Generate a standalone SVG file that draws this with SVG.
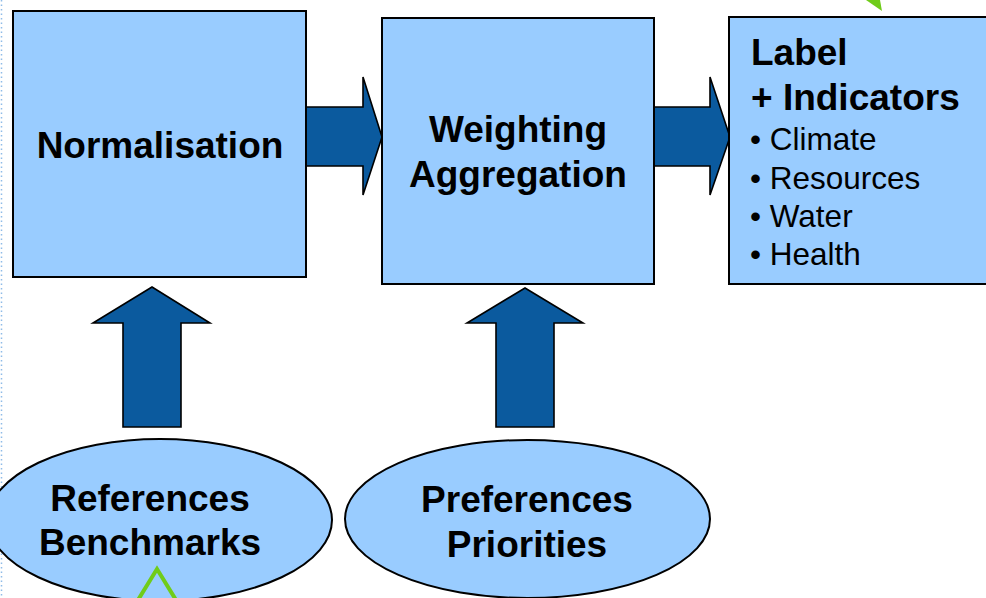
<svg xmlns="http://www.w3.org/2000/svg" width="986" height="598" viewBox="0 0 986 598">
  <style>
    .box { fill: #99ccff; stroke: #000; stroke-width: 2; }
    .arrow { fill: #0b5a9e; stroke: #000; stroke-width: 1.6; stroke-linejoin: miter; }
    .title { font-family: "Liberation Sans", Arial, sans-serif; font-weight: bold; font-size: 37px; fill: #000; }
    .item { font-family: "Liberation Sans", Arial, sans-serif; font-size: 31.5px; fill: #000; }
    .mid { text-anchor: middle; }
    .accent { fill: none; stroke: #70cc1a; stroke-width: 4; }
  </style>
  <rect width="986" height="598" fill="#fff"/>
  <!-- dotted page margin -->
  <line x1="1.5" y1="0" x2="1.5" y2="598" stroke="#8fbbe8" stroke-width="1.5" stroke-dasharray="1.5,3"/>

  <g id="connectors">
    <polygon class="arrow" points="306,107 363,107 363,77 382,137 363,195 363,166 306,166"/>
    <polygon class="arrow" points="654,107 710,107 710,77 730,137 710,195 710,166 654,166"/>
    <polygon class="arrow" points="152,287 210,323 181,323 181,427 123,427 123,323 93,323"/>
    <polygon class="arrow" points="525,288 583,323 554,323 554,427 496,427 496,323 467,323"/>
  </g>

  <g id="normalisation">
    <rect class="box" x="13" y="11" width="293" height="266"/>
    <text class="title mid" x="160" y="158">Normalisation</text>
  </g>

  <g id="weighting">
    <rect class="box" x="382" y="18" width="272" height="266"/>
    <text class="title mid" x="518" y="142">Weighting</text>
    <text class="title mid" x="518" y="187">Aggregation</text>
  </g>

  <g id="label">
    <rect class="box" x="729" y="17" width="260" height="267"/>
    <text class="title" x="751" y="65">Label</text>
    <text class="title" x="751" y="110">+ Indicators</text>
    <text class="item" x="750" y="150">• Climate</text>
    <text class="item" x="750" y="189">• Resources</text>
    <text class="item" x="750" y="227">• Water</text>
    <text class="item" x="750" y="265">• Health</text>
  </g>

  <g id="references">
    <ellipse class="box" cx="160" cy="520" rx="172" ry="81"/>
    <text class="title mid" x="150" y="511">References</text>
    <text class="title mid" x="150" y="555">Benchmarks</text>
  </g>

  <g id="preferences">
    <ellipse class="box" cx="527.5" cy="519" rx="182.5" ry="79"/>
    <text class="title mid" x="527" y="512">Preferences</text>
    <text class="title mid" x="527" y="557">Priorities</text>
  </g>

  <!-- green marks at the page edges -->
  <polyline class="accent" points="138,600 157,569 176,600"/>
  <polygon fill="#70cc1a" points="866,0 880,0 882,11"/>
</svg>
